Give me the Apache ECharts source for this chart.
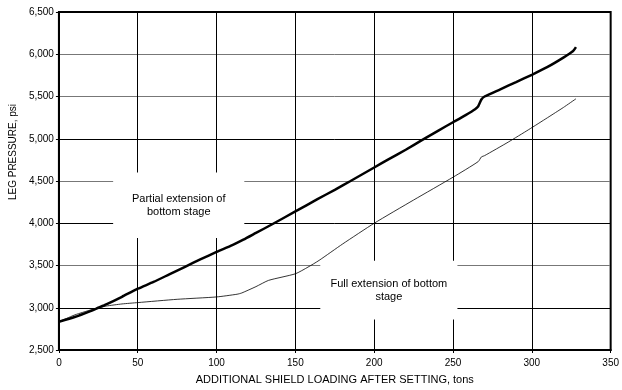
<!DOCTYPE html>
<html>
<head>
<meta charset="utf-8">
<script src="https://cdn.jsdelivr.net/npm/echarts@6/dist/echarts.min.js"></script>
<style>
html,body{margin:0;padding:0;background:#fff;}
#chart{width:622px;height:390px;}
</style>
</head>
<body>
<div id="chart"></div>
<script>
// Tick values
var xTicks = [0, 50, 100, 150, 200, 250, 300, 350];
var yTicks = [2500, 3000, 3500, 4000, 4500, 5000, 5500, 6000, 6500];

// Partial extension (thick) curve: [load tons, pressure psi]
var partialLoad = [0, 10, 20, 25, 30, 40, 50, 60, 70, 80, 90, 100, 110, 117, 125, 135, 150, 164, 175, 185, 200, 209, 220, 230, 241, 250, 258, 264, 266, 268, 270, 280, 290, 300, 310, 320, 326, 328];
var partialPsi  = [2835, 2890, 2960, 3000, 3040, 3130, 3225, 3305, 3395, 3485, 3575, 3660, 3740, 3805, 3885, 3985, 4140, 4285, 4395, 4500, 4660, 4755, 4870, 4980, 5100, 5195, 5280, 5350, 5385, 5465, 5500, 5585, 5670, 5757, 5850, 5960, 6035, 6085];

// Full extension (thin) curve
var fullLoad = [0, 5, 10, 15, 23, 30, 40, 50, 75, 100, 113, 116, 125, 133, 150, 158, 165, 180, 200, 225, 250, 266, 268, 270, 285, 298, 310, 320, 328];
var fullPsi  = [2835, 2875, 2915, 2945, 2990, 3020, 3045, 3061, 3100, 3128, 3160, 3175, 3250, 3324, 3402, 3481, 3560, 3755, 4000, 4275, 4545, 4730, 4785, 4800, 4960, 5108, 5250, 5370, 5473];

// Annotation labels and their boxes (data coordinates)
var noteTexts = ['Partial extension of\nbottom stage', 'Full extension of bottom\nstage'];
var noteBoxes = [
  [[34.4, 4602], [117.6, 3826]],
  [[165.8, 3555], [252.8, 2861]]
];

function zip(a, b) { return a.map(function (v, i) { return [v, b[i]]; }); }
function fmt(v) { return String(v).replace(/\B(?=(\d{3})+(?!\d))/g, ','); }

var font = 'Liberation Sans, Arial, sans-serif';
var chart = echarts.init(document.getElementById('chart'), null, {renderer: 'canvas'});
chart.setOption({
  animation: false,
  backgroundColor: '#fff',
  grid: {left: 58, right: 5, top: 12, bottom: 38, show: true, borderColor: '#000', borderWidth: 2, backgroundColor: 'transparent'},
  xAxis: {
    type: 'value',
    min: xTicks[0], max: xTicks[xTicks.length - 1], interval: xTicks[1] - xTicks[0],
    name: 'ADDITIONAL SHIELD LOADING AFTER SETTING, tons',
    nameLocation: 'middle', nameGap: 24,
    nameTextStyle: {fontFamily: font, fontSize: 11, color: '#000'},
    axisLine: {show: true, lineStyle: {color: '#000', width: 2}},
    axisTick: {show: true, inside: false, length: 3, lineStyle: {color: '#000'}},
    axisLabel: {fontFamily: font, fontSize: 10, color: '#000', margin: 8, showMaxLabel: true},
    splitLine: {show: true, lineStyle: {color: '#000', width: 1}}
  },
  yAxis: {
    type: 'value',
    min: yTicks[0], max: yTicks[yTicks.length - 1], interval: yTicks[1] - yTicks[0],
    name: 'LEG PRESSURE, psi',
    nameLocation: 'middle', nameGap: 37, nameRotate: 90,
    nameTextStyle: {fontFamily: font, fontSize: 10, color: '#000', padding: [0, 0, 0, 58]},
    axisLine: {show: true, lineStyle: {color: '#000', width: 2}},
    axisTick: {show: true, inside: false, length: 3, lineStyle: {color: '#000'}},
    axisLabel: {fontFamily: font, fontSize: 10, color: '#000', margin: 5, formatter: fmt},
    splitLine: {show: true, lineStyle: {color: ['#000', '#000', '#777', '#000', '#777', '#000', '#777', '#777', '#000'], width: 1}}
  },
  series: [
    {
      type: 'line', data: [], z: 1, silent: true,
      markArea: {
        silent: true,
        itemStyle: {color: '#fff', opacity: 1},
        label: {show: true, position: 'inside', fontFamily: font, fontSize: 11, color: '#000', lineHeight: 13, align: 'center'},
        data: noteBoxes.map(function (b, i) {
          return [{coord: b[0], name: noteTexts[i]}, {coord: b[1]}];
        })
      }
    },
    {
      name: 'Full', type: 'line', data: zip(fullLoad, fullPsi), z: 3,
      showSymbol: false, smooth: 0.2,
      lineStyle: {color: '#000', width: 0.8}
    },
    {
      name: 'Partial', type: 'line', data: zip(partialLoad, partialPsi), z: 4,
      showSymbol: false, smooth: 0.2,
      lineStyle: {color: '#000', width: 2.5}
    }
  ]
});
</script>
</body>
</html>
